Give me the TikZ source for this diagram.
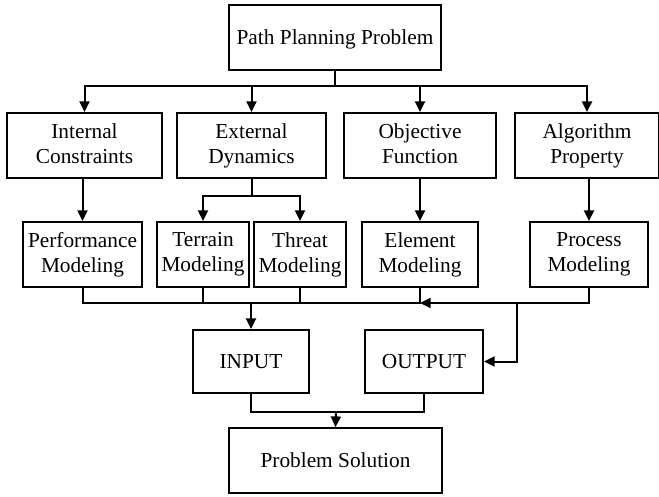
\documentclass[tikz,border=0pt]{standalone}
\usepackage{fontspec}
\setmainfont{Liberation Serif}
\usetikzlibrary{arrows.meta}

\newcommand{\vstrut}{\rule[-3.6pt]{0pt}{18.4pt}}

\begin{document}
\begin{tikzpicture}[x=0.75pt, y=-0.75pt,
        block/.style={rectangle, draw, line width=1.4pt, align=center, inner sep=1pt, font=\fontsize{16}{18.75}\selectfont,
            execute at begin node=\vstrut, execute at end node=\vstrut},
        boxsize/.style 2 args={minimum width=#1*0.75pt, minimum height=#2*0.75pt},
        flow/.style={line width=1.5pt},
        flowarrow/.style={line width=1.5pt, -{Triangle[length=8pt,width=7.5pt]}}
    ]
        \useasboundingbox (0,0) rectangle (659,496);

        % Top problem
        \node[block, boxsize={212}{65}] (problem) at (335,37.5) {Path Planning Problem};

        % Second level: aspects of the problem
        \node[block, boxsize={155}{65}] (ic) at (84.5,145.5) {Internal\\Constraints};
        \node[block, boxsize={149}{65}] (ed) at (251.5,145.5) {External\\Dynamics};
        \node[block, boxsize={152}{65}] (of) at (420,145.5) {Objective\\Function};
        \node[block, boxsize={144}{65}] (ap) at (587,145.5) {Algorithm\\Property};

        % Third level: modeling
        \node[block, boxsize={119}{65}] (pm) at (82.5,254.5) {Performance\\Modeling};
        \node[block, boxsize={92}{65}] (tm) at (203,254.5) {Terrain\\Modeling};
        \node[block, boxsize={92}{65}] (thm) at (300,254.5) {Threat\\Modeling};
        \node[block, boxsize={116}{65}] (em) at (420,254.5) {Element\\Modeling};
        \node[block, boxsize={118}{65}] (prm) at (589,254.5) {Process\\Modeling};

        % Input / output and solution
        \node[block, boxsize={116}{63}] (input) at (251,361.5) {INPUT};
        \node[block, boxsize={118}{63}] (output) at (424,361.5) {OUTPUT};
        \node[block, boxsize={213}{65}] (solution) at (335.5,460.5) {Problem Solution};

        % Branch points
        \coordinate (split1) at (335,86);
        \coordinate (split2) at (251.5,196);
        \coordinate (merge1) at (251,303);
        \coordinate (merge2) at (517,303);
        \coordinate (merge3) at (336,412);

        % Problem to aspects
        \foreach \n in {ic,ed,of,ap} {
            \draw[flowarrow] (problem.south) -- (split1) -| (\n.north);
        }

        % Aspects to modeling
        \draw[flowarrow] (pm.north |- ic.south) -- (pm.north);
        \foreach \n in {tm,thm} {
            \draw[flowarrow] (ed.south) -- (split2) -| (\n.north);
        }
        \draw[flowarrow] (of.south) -- (em.north);
        \draw[flowarrow] (prm.north |- ap.south) -- (prm.north);

        % Modeling to input / output
        \foreach \n in {pm,tm,thm,em} {
            \draw[flow] (\n.south) |- (merge1);
        }
        \draw[flowarrow] (merge1) -- (input.north);
        \draw[flowarrow] (prm.south) |- (em.south |- merge1);
        \draw[flowarrow] (merge2) |- (output.east);

        % Input / output to solution
        \draw[flow] (input.south) |- (merge3);
        \draw[flow] (output.south) |- (merge3);
        \draw[flowarrow] (merge3) -- (solution.north);

    \end{tikzpicture}
\end{document}
